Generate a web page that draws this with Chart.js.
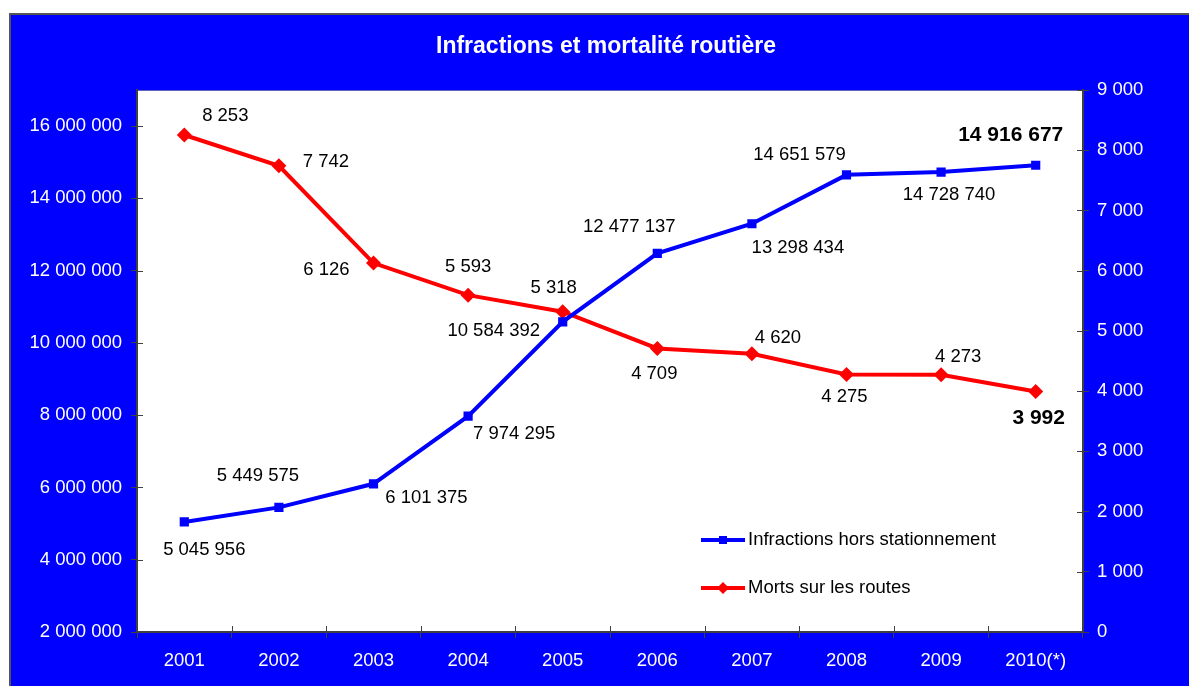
<!DOCTYPE html>
<html>
<head>
<meta charset="utf-8">
<script src="https://cdn.jsdelivr.net/npm/chart.js@4"></script>
<style>
  html, body { margin: 0; padding: 0; background: #fff; }
  #wrap { width: 1189px; height: 686px; }
</style>
</head>
<body>
<div id="wrap"><canvas id="roadChart"></canvas></div>
<script>
// data
const years = ['2001','2002','2003','2004','2005','2006','2007','2008','2009','2010(*)'];
const infractions = [5045956, 5449575, 6101375, 7974295, 10584392, 12477137, 13298434, 14651579, 14728740, 14916677];
const deaths = [8253, 7742, 6126, 5593, 5318, 4709, 4620, 4275, 4273, 3992];
const leftTicks = [2000000, 4000000, 6000000, 8000000, 10000000, 12000000, 14000000, 16000000];
const rightTicks = [0, 1000, 2000, 3000, 4000, 5000, 6000, 7000, 8000, 9000];

// where each value label sits relative to its point (dx, dy)
const infraLabelPos = [[20,28],[-21,-31],[53,14],[46,18],[-69,9],[-28,-27],[46,24],[-47,-20],[8,23],[-25,-30]];
const deathLabelPos = [[41,-19],[47,-4],[-47,7],[0,-28],[-9,-24],[-3,25],[26,-16],[-2,22],[17,-18],[3,27]];

const FONT = '"Liberation Sans", Arial, sans-serif';
const BLUE = '#0000ff';
const RED = '#ff0000';
const AXIS = '#404040';

function fmt(v) {
  return String(v).replace(/\B(?=(\d{3})+(?!\d))/g, ' ');
}

const framePlugin = {
  id: 'frame',
  beforeDraw(chart) {
    const c = chart.ctx, a = chart.chartArea;
    c.save();
    c.fillStyle = '#fff';
    c.fillRect(0, 0, chart.width, chart.height);
    c.fillStyle = BLUE;
    c.fillRect(10, 14, chart.width - 10, chart.height - 14);
    c.strokeStyle = '#555';
    c.lineWidth = 2;
    c.beginPath();
    c.moveTo(10, chart.height);
    c.lineTo(10, 14);
    c.lineTo(chart.width, 14);
    c.stroke();
    c.fillStyle = '#fff';
    c.fillRect(a.left, a.top, a.right - a.left, a.bottom - a.top);
    c.strokeStyle = '#6060c0';
    c.lineWidth = 1;
    c.strokeRect(a.left + 0.5, a.top + 0.5, a.right - a.left - 1, a.bottom - a.top);
    // title
    c.fillStyle = '#fff';
    c.font = 'bold 23px ' + FONT;
    c.textAlign = 'center';
    c.textBaseline = 'middle';
    c.fillText('Infractions et mortalité routière', 606, 47);
    c.restore();
  },
  afterDraw(chart) {
    const c = chart.ctx, a = chart.chartArea;
    c.save();
    c.strokeStyle = AXIS;
    c.lineWidth = 1;
    c.beginPath();
    chart.scales.yL.ticks.forEach((t, i) => {
      const y = Math.round(chart.scales.yL.getPixelForTick(i)) + 0.5;
      c.moveTo(a.left, y); c.lineTo(a.left + 6, y);
    });
    chart.scales.yR.ticks.forEach((t, i) => {
      const y = Math.round(chart.scales.yR.getPixelForTick(i)) + 0.5;
      c.moveTo(a.right, y); c.lineTo(a.right - 6, y);
    });
    const step = (a.right - a.left) / years.length;
    for (let i = 0; i <= years.length; i++) {
      const x = Math.round(a.left + i * step) + 0.5;
      c.moveTo(x, a.bottom); c.lineTo(x, a.bottom - 6);
    }
    c.stroke();

    // legend
    const items = [
      { text: 'Infractions hors stationnement', color: BLUE, shape: 'square', y: 540 },
      { text: 'Morts sur les routes', color: RED, shape: 'diamond', y: 588 }
    ];
    items.forEach(it => {
      c.strokeStyle = it.color;
      c.lineWidth = 4;
      c.beginPath();
      c.moveTo(701, it.y); c.lineTo(745, it.y);
      c.stroke();
      c.fillStyle = it.color;
      if (it.shape === 'square') {
        c.fillRect(719, it.y - 4, 8, 8);
      } else {
        c.beginPath();
        c.moveTo(723, it.y - 6); c.lineTo(729, it.y); c.lineTo(723, it.y + 6); c.lineTo(717, it.y);
        c.closePath(); c.fill();
      }
      c.fillStyle = '#000';
      c.font = '18.5px ' + FONT;
      c.textAlign = 'left';
      c.textBaseline = 'middle';
      c.fillText(it.text, 748, it.y);
    });
    c.restore();
  },
  afterDatasetsDraw(chart) {
    const c = chart.ctx;
    c.save();
    c.fillStyle = '#000';
    c.textAlign = 'center';
    c.textBaseline = 'middle';
    const draw = (dsIndex, values, pos) => {
      const meta = chart.getDatasetMeta(dsIndex);
      meta.data.forEach((pt, i) => {
        const last = i === values.length - 1;
        c.font = (last ? 'bold 21px ' : '18.5px ') + FONT;
        c.fillText(fmt(values[i]), pt.x + pos[i][0], pt.y + pos[i][1]);
      });
    };
    draw(0, infractions, infraLabelPos);
    draw(1, deaths, deathLabelPos);
    c.restore();
  }
};

new Chart(document.getElementById('roadChart'), {
  type: 'line',
  data: {
    labels: years,
    datasets: [
      {
        label: 'Infractions hors stationnement',
        data: infractions,
        yAxisID: 'yL',
        borderColor: BLUE,
        backgroundColor: BLUE,
        borderWidth: 4,
        pointStyle: 'rect',
        pointRadius: 6.5,
        pointBorderWidth: 0,
        tension: 0
      },
      {
        label: 'Morts sur les routes',
        data: deaths,
        yAxisID: 'yR',
        borderColor: RED,
        backgroundColor: RED,
        borderWidth: 4,
        pointStyle: 'rectRot',
        pointRadius: 7.5,
        pointBorderWidth: 0,
        tension: 0
      }
    ]
  },
  options: {
    responsive: true,
    maintainAspectRatio: false,
    animation: false,
    layout: { padding: { top: 90, left: 10, right: 0, bottom: 0 } },
    plugins: {
      legend: { display: false },
      tooltip: { enabled: false }
    },
    scales: {
      x: {
        offset: true,
        grid: { offset: true, drawOnChartArea: false, tickLength: 6, color: AXIS },
        border: { color: AXIS, width: 2 },
        ticks: { color: '#fff', font: { family: FONT, size: 18.5 }, padding: 12, maxRotation: 0 },
        afterFit(s) { s.height = 54; }
      },
      yL: {
        position: 'left',
        min: 2000000,
        max: 17000000,
        ticks: {
          color: '#fff',
          font: { family: FONT, size: 18.5 },
          padding: 9,
          callback: v => fmt(v)
        },
        afterBuildTicks(s) { s.ticks = leftTicks.map(v => ({ value: v })); },
        grid: { drawOnChartArea: false, tickLength: 6, color: AXIS },
        border: { color: AXIS, width: 2 },
        afterFit(s) { s.width = 127; }
      },
      yR: {
        position: 'right',
        min: 0,
        max: 9000,
        ticks: {
          color: '#fff',
          font: { family: FONT, size: 18.5 },
          padding: 8,
          callback: v => fmt(v)
        },
        afterBuildTicks(s) { s.ticks = rightTicks.map(v => ({ value: v })); },
        grid: { drawOnChartArea: false, tickLength: 6, color: AXIS },
        border: { color: AXIS, width: 2 },
        afterFit(s) { s.width = 106; }
      }
    }
  },
  plugins: [framePlugin]
});
</script>
</body>
</html>
